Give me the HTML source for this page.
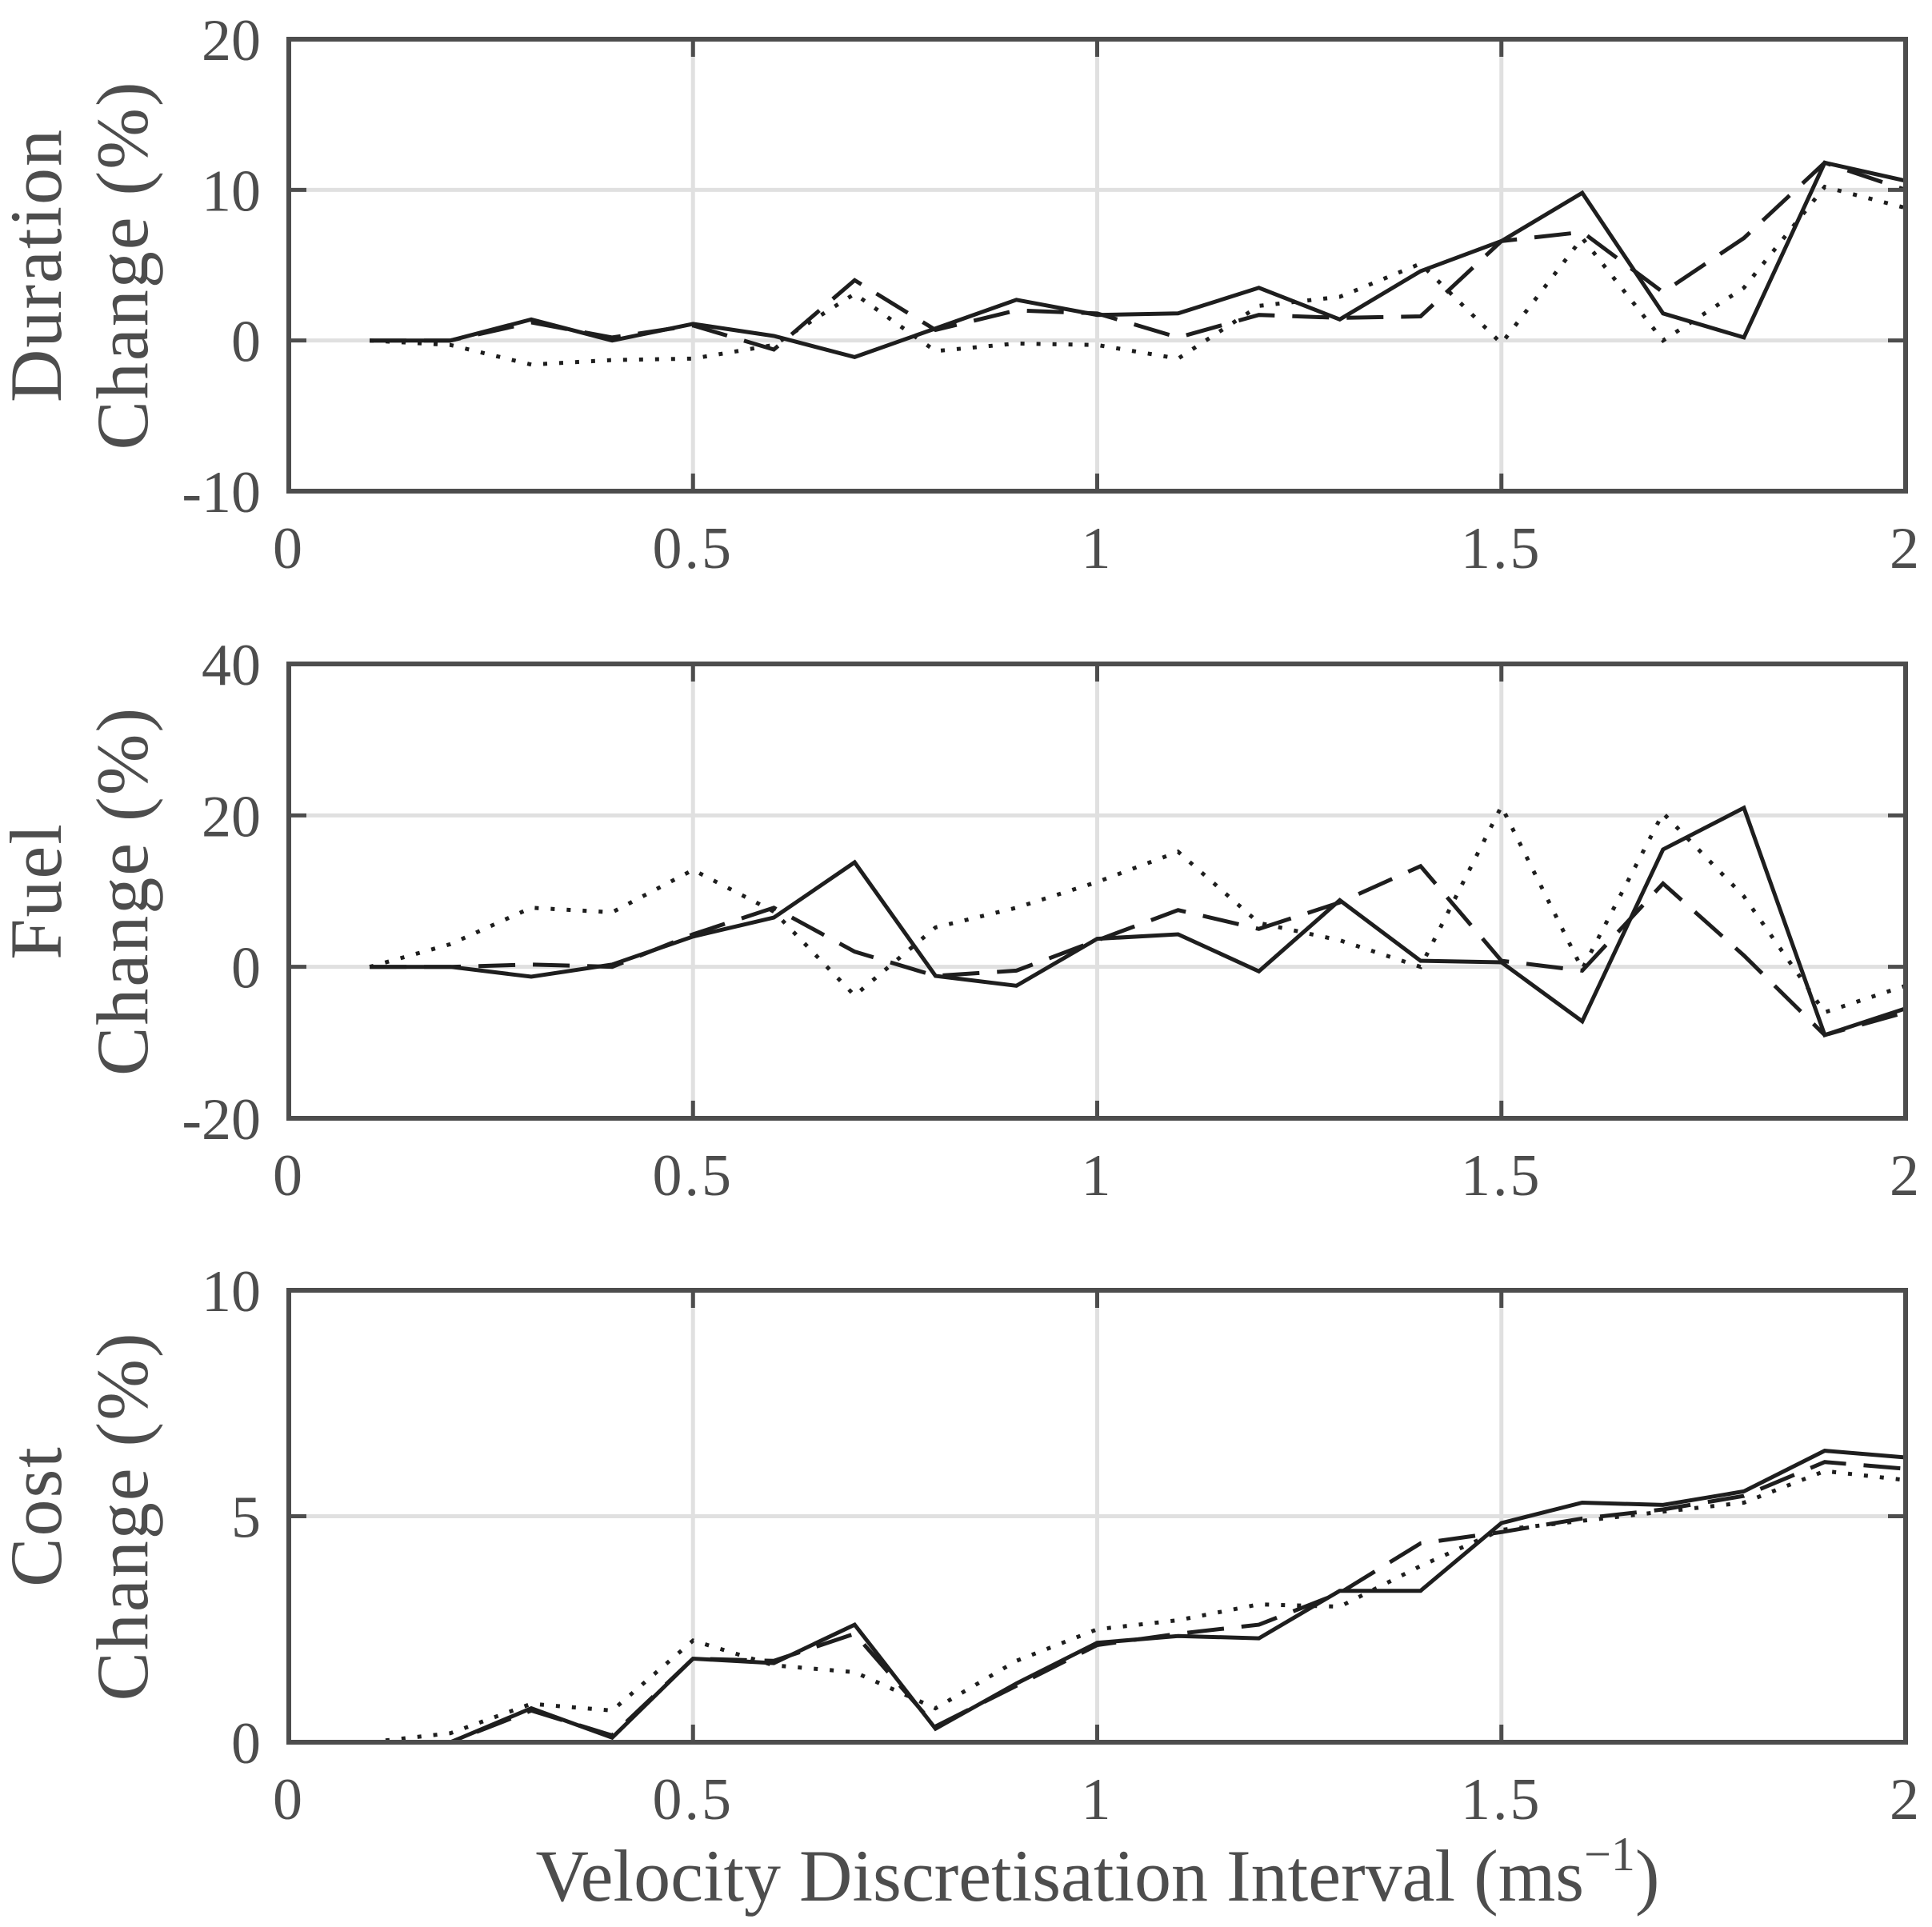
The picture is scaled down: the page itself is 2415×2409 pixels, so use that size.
<!DOCTYPE html>
<html><head><meta charset="utf-8">
<style>
html,body{margin:0;padding:0;background:#fff;}
svg{display:block;}
text{font-family:"Liberation Serif",serif;fill:#4d4d4d;}
</style></head>
<body>
<svg id="chart" width="2415" height="2409" viewBox="0 0 2415 2409" xmlns="http://www.w3.org/2000/svg">
<text x="1372" y="2376" font-size="92" text-anchor="middle" letter-spacing="0">Velocity Discretisation Interval (ms<tspan font-size="60" dy="-38">−1</tspan><tspan dy="38">)</tspan></text>
</svg>
<script>
const xValues=[0.1,0.2,0.3,0.4,0.5,0.6,0.7,0.8,0.9,1.0,1.1,1.2,1.3,1.4,1.5,1.6,1.7,1.8,1.9,2.0];
const xTicks=[0,0.5,1,1.5,2];
const xTickLabels=["0","0.5","1","1.5","2"];
const durationSolid=[0,0,1.4,0,1.1,0.3,-1.1,0.8,2.7,1.7,1.8,3.5,1.4,4.6,6.6,9.8,1.8,0.2,11.8,10.6];
const durationDashed=[0,0,1.2,0.2,1.0,-0.6,4.0,0.7,2.0,1.8,0.2,1.7,1.5,1.6,6.6,7.2,3.2,6.8,11.8,10.0];
const durationDotted=[0,-0.3,-1.6,-1.3,-1.2,-0.3,3.1,-0.7,-0.2,-0.3,-1.2,2.3,2.9,5.1,-0.2,6.8,0.0,3.5,10.2,8.8];
const fuelSolid=[0,0,-1.3,0.3,4.0,6.5,13.8,-1.2,-2.5,3.7,4.3,-0.6,8.8,0.8,0.6,-7.2,15.5,21,-9,-5.5];
const fuelDashed=[0,0,0.3,0.0,4.3,7.8,2.0,-1.2,-0.5,3.5,7.5,5.0,8.5,13.3,0.8,-0.5,11.0,1.5,-9.0,-6.0];
const fuelDotted=[0,3,7.8,7.2,12.8,7.3,-3.8,5.2,7.8,11.2,15.2,5.8,3.5,0.0,21.2,-0.3,20.3,9.3,-6.0,-2.5];
const costSolid=[0,0,0.75,0.1,1.85,1.75,2.6,0.3,1.3,2.2,2.35,2.3,3.35,3.35,4.85,5.3,5.25,5.55,6.45,6.3];
const costDashed=[0,0,0.7,0.15,1.85,1.8,2.4,0.35,1.25,2.15,2.4,2.6,3.3,4.4,4.65,4.95,5.15,5.45,6.2,6.05];
const costDotted=[0,0.2,0.85,0.7,2.25,1.7,1.55,0.75,1.8,2.5,2.7,3.05,3.0,3.9,4.7,4.9,5.1,5.3,6.0,5.8];
const durationTicks=[-10,0,10,20];
const fuelTicks=[-20,0,20,40];
const costTicks=[0,5,10];

const NS="http://www.w3.org/2000/svg";
const svg=document.getElementById('chart');
const L=361,R=2382;
function mk(tag,attrs,parent){const e=document.createElementNS(NS,tag);for(const k in attrs)e.setAttribute(k,attrs[k]);(parent||svg).appendChild(e);return e;}
function xs(v){return L+(v-0)/(2-0)*(R-L);}

function panel(name,top,bottom,yTicks,label1,label2,solid,dashed,dotted){
  const g=mk('g',{});
  
  
  const ymin=yTicks[0],ymax=yTicks[yTicks.length-1];
  const ys=v=>bottom-(v-ymin)/(ymax-ymin)*(bottom-top);
  xTicks.slice(1,-1).forEach(t=>{
    const l=mk('line',{x1:xs(t),x2:xs(t),y1:top,y2:bottom,stroke:'#e0e0e0','stroke-width':5},g);
    
    
  });
  yTicks.slice(1,-1).forEach(t=>{
    const l=mk('line',{x1:L,x2:R,y1:ys(t),y2:ys(t),stroke:'#e0e0e0','stroke-width':5},g);
    
    
  });
  const series=[[solid,'none','solid'],[dashed,'46 22','dashed'],[dotted,'5 15','dotted']];
  series.forEach(s=>{
    const pts=xValues.map((x,i)=>xs(x).toFixed(1)+','+ys(s[0][i]).toFixed(1)).join(' ');
    const p=mk('polyline',{points:pts,fill:'none',stroke:'#1e1e1e','stroke-width':5,'stroke-dasharray':s[1],'stroke-linejoin':'miter'},g);
    
    
  });
  xTicks.forEach((t,i)=>{
    if(i>0&&i<xTicks.length-1){
      mk('line',{x1:xs(t),x2:xs(t),y1:top,y2:top+22,stroke:'#4d4d4d','stroke-width':5},g);
      mk('line',{x1:xs(t),x2:xs(t),y1:bottom,y2:bottom-22,stroke:'#4d4d4d','stroke-width':5},g);
    }
    const tx=mk('text',{x:xs(t),y:bottom+96,'font-size':74,'text-anchor':'middle','letter-spacing':3},g);
    tx.textContent=xTickLabels[i];
    
    
  });
  yTicks.forEach((t,i)=>{
    if(i>0&&i<yTicks.length-1){
      mk('line',{x1:L,x2:L+22,y1:ys(t),y2:ys(t),stroke:'#4d4d4d','stroke-width':5},g);
      mk('line',{x1:R,x2:R-22,y1:ys(t),y2:ys(t),stroke:'#4d4d4d','stroke-width':5},g);
    }
    const tx=mk('text',{x:326,y:ys(t)+26,'font-size':74,'text-anchor':'end'},g);
    tx.textContent=String(t);
    
    
  });
  const box=mk('rect',{x:L,y:top,width:R-L,height:bottom-top,fill:'none',stroke:'#4d4d4d','stroke-width':6},g);
  
  
  const cy=(top+bottom)/2;
  const t1=mk('text',{x:0,y:0,'font-size':92,'text-anchor':'middle','letter-spacing':2,transform:`translate(76,${cy}) rotate(-90)`},g);
  t1.textContent=label1;
  
  
  const t2=mk('text',{x:0,y:0,'font-size':92,'text-anchor':'middle','letter-spacing':2,transform:`translate(184,${cy}) rotate(-90)`},g);
  t2.textContent=label2;
  
  
}
panel('duration',49,614,durationTicks,'Duration','Change (%)',durationSolid,durationDashed,durationDotted);
panel('fuel',830,1398,fuelTicks,'Fuel','Change (%)',fuelSolid,fuelDashed,fuelDotted);
panel('cost',1613,2178,costTicks,'Cost','Change (%)',costSolid,costDashed,costDotted);
</script>
</body></html>
